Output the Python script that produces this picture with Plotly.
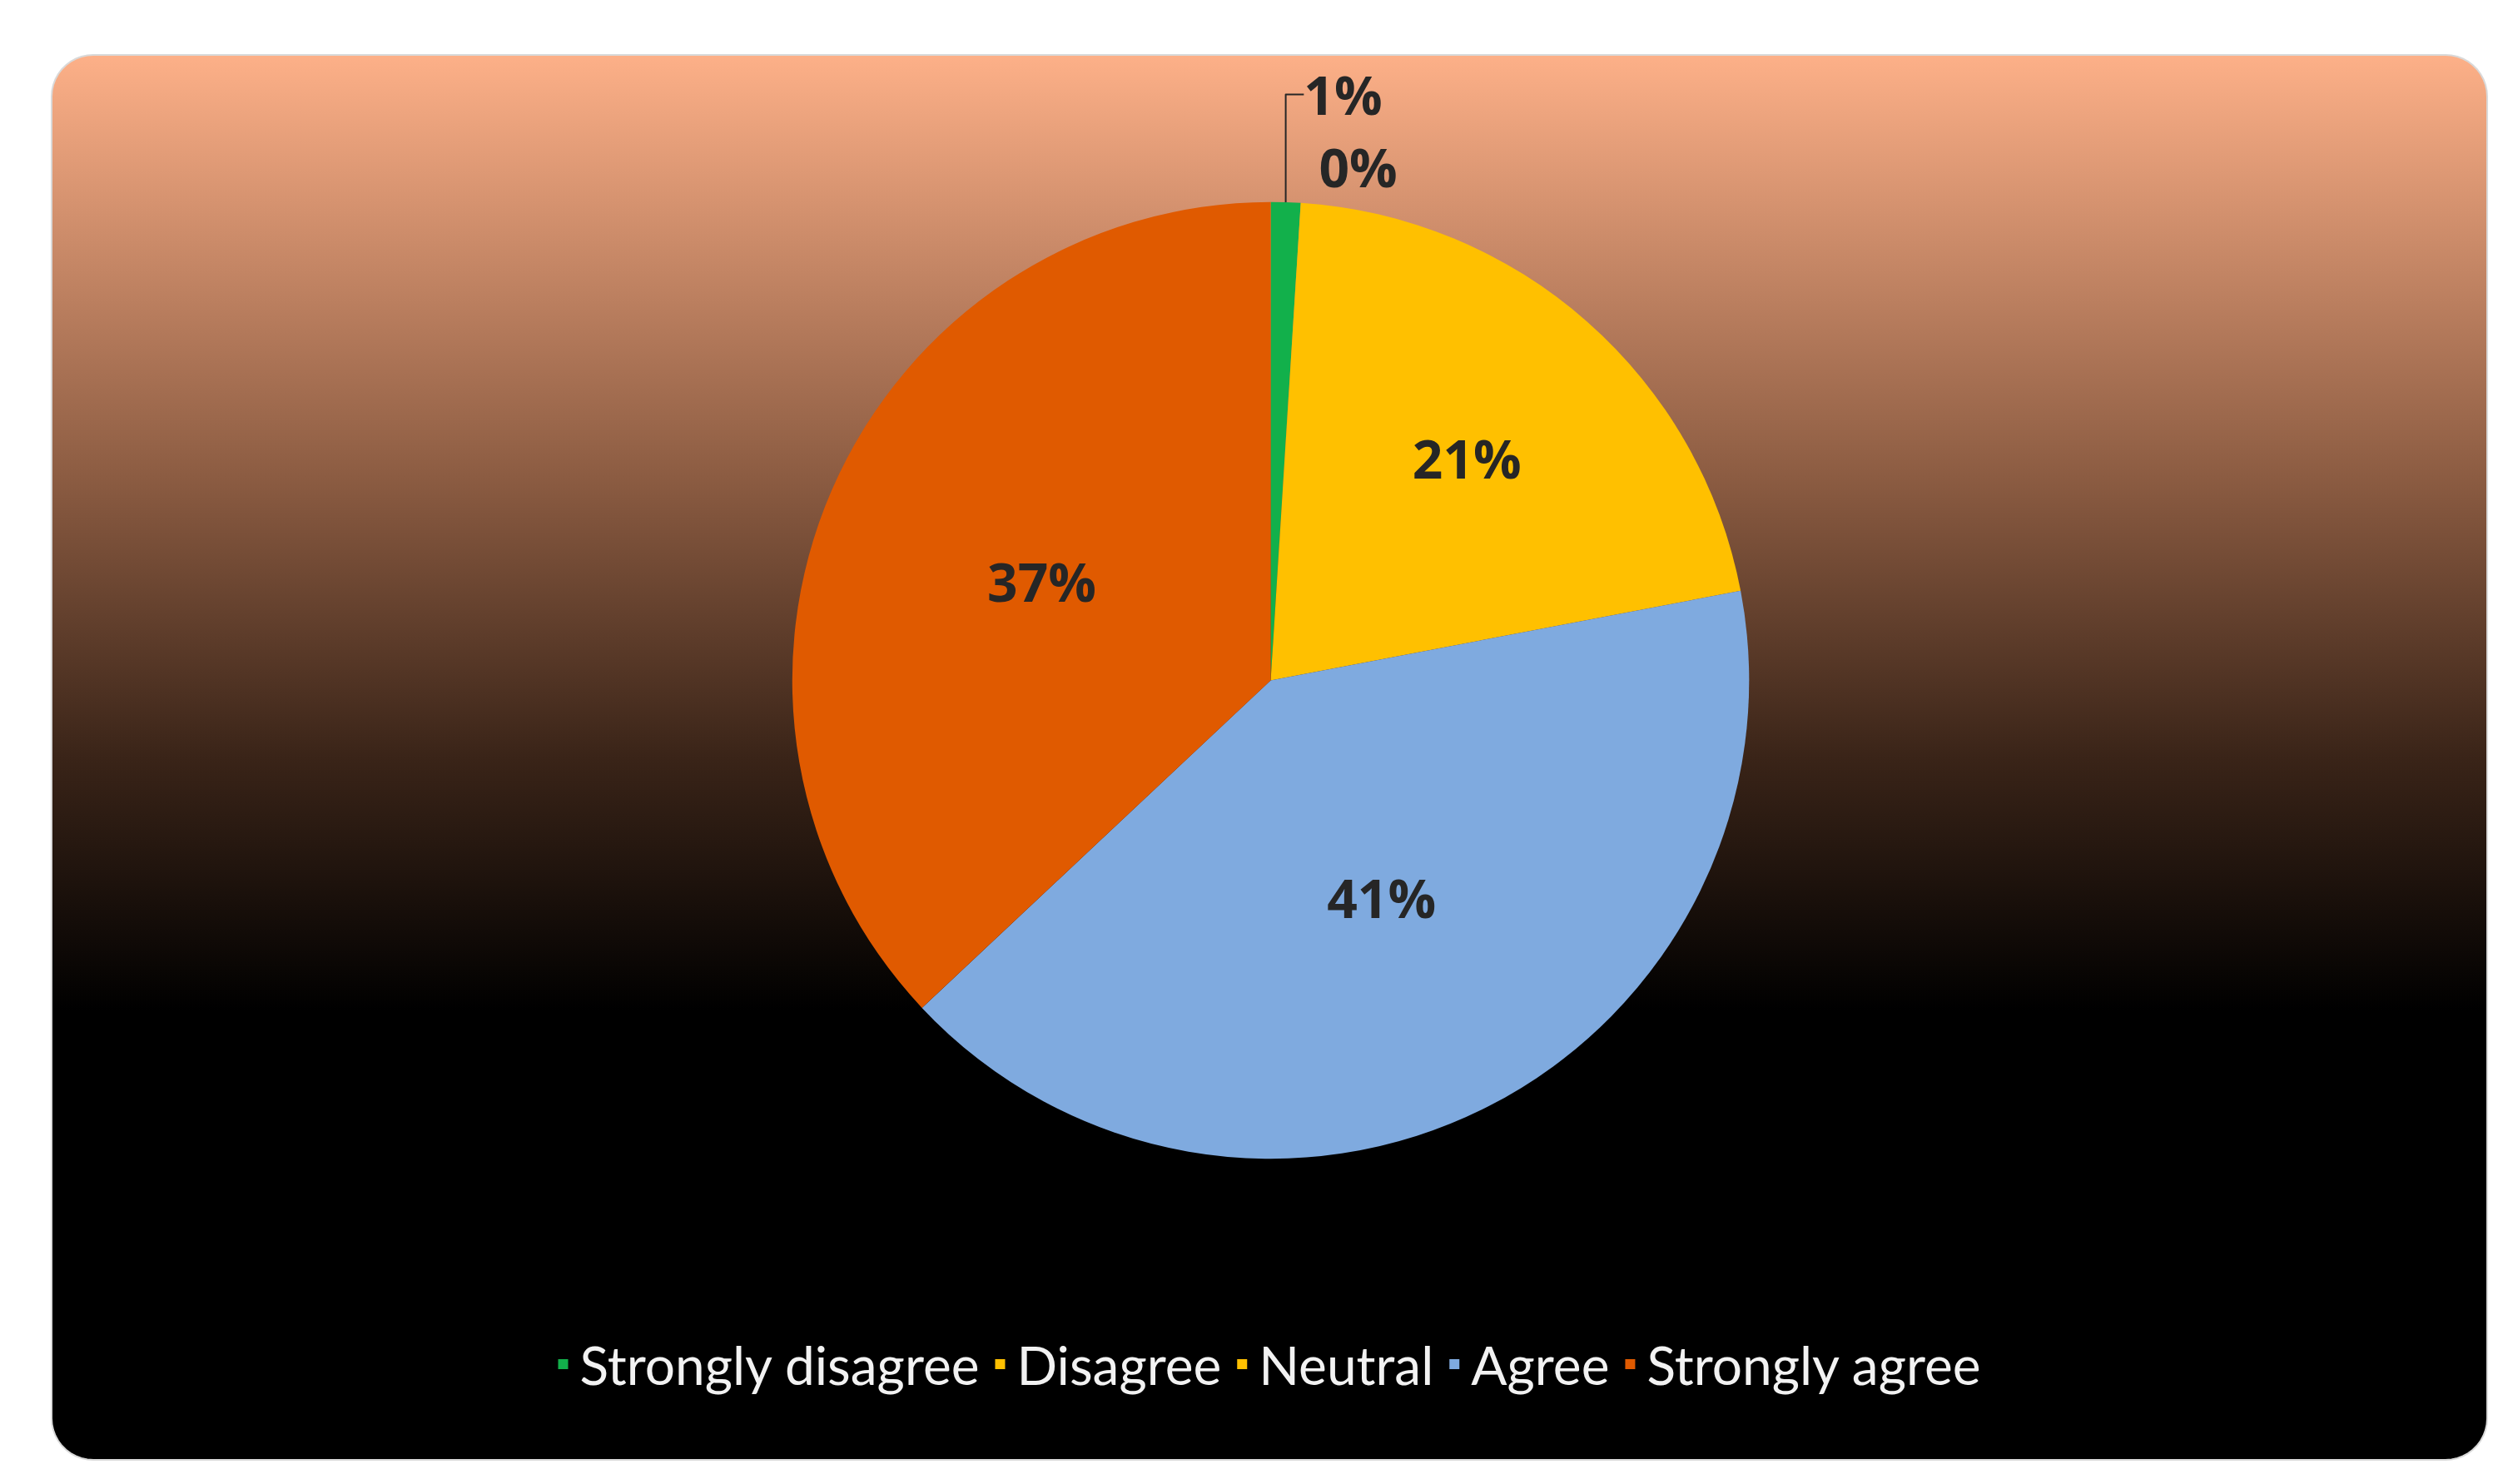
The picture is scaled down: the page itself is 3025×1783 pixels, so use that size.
import plotly.graph_objects as go
import numpy as np

categories = ["Strongly disagree", "Disagree", "Neutral", "Agree", "Strongly agree"]
values = [1, 0.001, 21, 41, 37]
value_labels = ["1%", "0%", "21%", "41%", "37%"]
colors = ["#12B04B", "#FFC000", "#FFC000", "#7FAADF", "#E05A00"]

W, H = 3025, 1783
x0, x1, y0, y1, r = 54, 2980, 37, 1725, 50
xs, ys = [], []
for cx, cy, a0 in [(x1 - r, y1 - r, 0), (x0 + r, y1 - r, 90), (x0 + r, y0 + r, 180), (x1 - r, y0 + r, 270)]:
    for a in np.linspace(a0, a0 + 90, 12):
        xs.append(cx + r * np.cos(np.radians(a)))
        ys.append(cy + r * np.sin(np.radians(a)))
xs.append(xs[0]); ys.append(ys[0])

fig = go.Figure()
fig.add_trace(go.Scatter(
    x=xs, y=ys, mode="lines", fill="toself", line=dict(color="#d9d9d9", width=2),
    fillgradient=dict(type="vertical", colorscale=[
        [0, "#000000"], [0.32, "#000000"], [0.5, "#3a2418"], [0.7, "#8c5c42"], [1, "#FDB088"]]),
    hoverinfo="skip", showlegend=False))

fig.add_trace(go.Pie(
    labels=categories, values=values, text=value_labels, textinfo="text",
    sort=False, direction="clockwise", rotation=0,
    marker=dict(colors=colors, line=dict(width=0)),
    textposition=["outside", "outside", "inside", "inside", "inside"],
    insidetextorientation="horizontal",
    textfont=dict(family="Open Sans", size=64, color="#262626", weight="bold"),
    outsidetextfont=dict(family="Open Sans", size=64, color="#262626", weight="bold"),
    domain=dict(x=[0.312, 0.692], y=[0.2235, 0.8685]),
))

fig.update_layout(
    width=W, height=H, margin=dict(l=0, r=0, t=0, b=0),
    paper_bgcolor="white", plot_bgcolor="rgba(0,0,0,0)",
    xaxis=dict(range=[0, W], visible=False, domain=[0, 1]),
    yaxis=dict(range=[0, H], visible=False, domain=[0, 1]),
    legend=dict(orientation="h", x=0.5, xanchor="center", y=0.085, yanchor="middle",
                font=dict(family="Lato", size=64, color="#f2f2f2"), bgcolor="rgba(0,0,0,0)",
                itemsizing="constant"),
    showlegend=True,
)
fig.write_html("out.html")
